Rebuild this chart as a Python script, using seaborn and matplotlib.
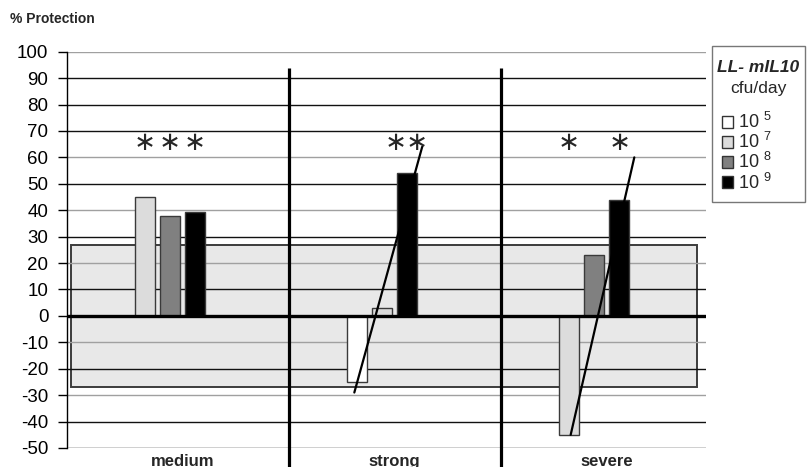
import matplotlib
matplotlib.use("Agg")
import matplotlib.pyplot as plt
from matplotlib.patches import Patch, Rectangle
from matplotlib.text import Annotation
import pandas as pd
import seaborn as sns

# ---- data -------------------------------------------------------------
groups = ["medium", "strong", "severe"]
doses = ["10 $^{5}$", "10 $^{7}$", "10 $^{8}$", "10 $^{9}$"]

# % protection for each dose (None = dose not given in that group)
medium = [None, 45, 38, 39.5]
strong = [-25, 3, None, 54]
severe = [None, -45, 23, 44]

# significance marks over each bar
stars_medium = ["", "∗", "∗", "∗"]
stars_strong = ["", "", "", "∗∗"]
stars_severe = ["", "∗", "", "∗"]
star_level = 65.5

# range of the control values (shaded band)
band_low, band_high = -27, 27

# dose-response trend lines (x in group units)
trend_strong_x = [0.81, 1.13]
trend_strong_y = [-29, 64]
trend_severe_x = [1.83, 2.13]
trend_severe_y = [-45, 60]

y_ticks = list(range(-50, 101, 10))
light_grid = [100, 60, 40, 20, -10, -30]

# ---- style ------------------------------------------------------------
sns.set_style("white")
plt.rcParams["font.family"] = ["Liberation Sans", "DejaVu Sans"]
plt.rcParams["mathtext.default"] = "regular"

colors = dict(zip(doses, ["#ffffff", "#dcdcdc", "#808080", "#000000"]))

W, H = 807, 467
fig = plt.figure(figsize=(W / 100, H / 100), dpi=100)
ax = fig.add_axes([66.5 / W, 1 - 448 / H, (706 - 66.5) / W, (448 - 51.7) / H])

# bars of a group sit in consecutive slots, filled from the left
slot = 0.118
rows = []
for gi, (g, vals, stars) in enumerate(zip(groups, [medium, strong, severe],
                                           [stars_medium, stars_strong, stars_severe])):
    k = 0
    for d, v, s in zip(doses, vals, stars):
        if v is None:
            continue
        rows.append({"group": g, "dose": d, "value": v, "star": s,
                     "pos": gi + (k - 1.5) * slot})
        k += 1
df = pd.DataFrame(rows)

# control band behind everything
ax.add_patch(Rectangle((-0.527, band_low), 2.953, band_high - band_low,
                       facecolor="#e8e8e8", edgecolor="#3c3c3c", lw=1.4, zorder=1))

# horizontal grid
for v in y_ticks:
    ax.axhline(v, color="#a0a0a0" if v in light_grid else "#111111", lw=1.0, zorder=1.5)

sns.barplot(data=df, x="pos", y="value", hue="dose", hue_order=doses,
            palette=colors, native_scale=True, dodge=False, width=0.8,
            edgecolor="#3a3a3a", linewidth=1.0, legend=False, ax=ax, zorder=3)

ax.axhline(0, color="black", lw=2.4, zorder=4)

# group separators
for s in (0.5, 1.5):
    ax.plot([s, s], [94, -58], color="black", lw=2.3, clip_on=False,
            zorder=5, solid_capstyle="butt")

# trend lines
ax.plot(trend_strong_x, trend_strong_y, color="black", lw=1.6, zorder=6)
ax.plot(trend_severe_x, trend_severe_y, color="black", lw=1.6, zorder=6)

# significance stars
for _, r in df.iterrows():
    if r["star"]:
        ax.text(r["pos"], star_level, r["star"], ha="center", va="center",
                fontsize=19, family="DejaVu Sans", zorder=6)

ax.set_xlim(-0.547, 2.468)
ax.set_ylim(-50, 100)
ax.set_yticks(y_ticks)
ax.set_yticklabels([str(v) for v in y_ticks])
ax.tick_params(axis="y", length=6.8, width=1.0, pad=6.3, labelsize=13.5,
               left=True, colors="black")
for t, v in zip(ax.yaxis.get_major_ticks(), y_ticks):
    t.tick1line.set_color("#a0a0a0" if v in light_grid else "#111111")
ax.set_xticks([0, 1, 2])
ax.set_xticklabels(groups, fontweight="bold", fontsize=12)
ax.tick_params(axis="x", length=0, pad=4)
ax.set_xlabel("")
ax.set_ylabel("")
for sp in ("top", "right", "bottom"):
    ax.spines[sp].set_visible(False)
ax.spines["left"].set_color("black")
ax.spines["left"].set_linewidth(1.0)

fig.text(10 / W, 1 - 19 / H, "% Protection", fontweight="bold", fontsize=10,
         ha="left", va="center")

# legend; a blank three-line title block reserves room for the
# two-style heading drawn on top of it
handles = [Patch(facecolor=colors[d], edgecolor="#333333", lw=1.0) for d in doses]
leg = fig.legend(handles, doses, loc="upper left", mode="expand",
                 bbox_to_anchor=(712 / W, 1 - 200 / H, 93 / W, 154 / H),
                 borderaxespad=0,
                 frameon=True, fancybox=False, edgecolor="#555555",
                 title="\n\n",
                 title_fontproperties={"size": 13.5, "weight": "bold", "style": "italic"},
                 alignment="left", fontsize=13, handlelength=0.6, handleheight=0.6,
                 handletextpad=0.3, labelspacing=0.0, borderpad=0.55)
leg.get_frame().set_linewidth(1.0)
head1 = Annotation("LL- mIL10", xy=(0.5, 1.0), xycoords=leg.get_frame(),
                   xytext=(0, -10), textcoords="offset points",
                   ha="center", va="top",
                   fontsize=12.5, fontweight="bold", fontstyle="italic",
                   annotation_clip=False)
head2 = Annotation("cfu/day", xy=(0.5, 1.0), xycoords=leg.get_frame(),
                   xytext=(0, -25.5), textcoords="offset points",
                   ha="center", va="top", fontsize=12.5, annotation_clip=False)
for a in (head1, head2):
    a.set_zorder(10)
    fig.add_artist(a)

fig.savefig("out.png", dpi=100)
